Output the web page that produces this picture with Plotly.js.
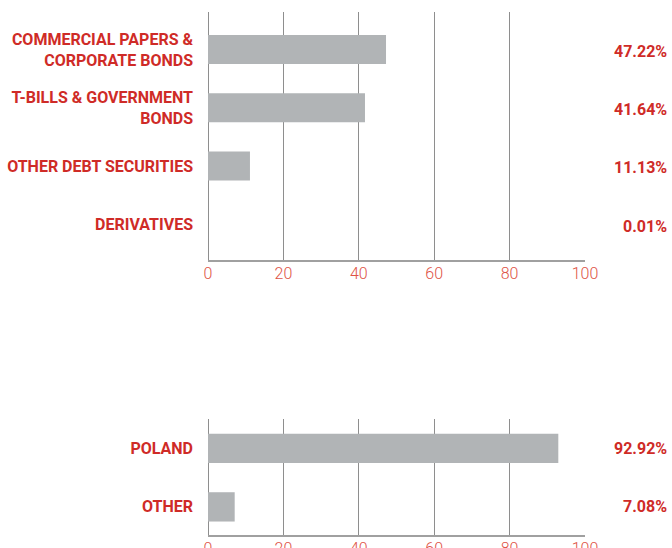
<!DOCTYPE html>
<html>
<head>
<meta charset="utf-8">
<script src="https://cdn.plot.ly/plotly-3.0.1.min.js"></script>
<style>html,body{margin:0;padding:0;background:#fff;}#chart{width:672px;height:548px;}</style>
</head>
<body>
<div id="chart"></div>
<script>
// Data
const assetCategories = ["COMMERCIAL PAPERS &<br>CORPORATE BONDS", "T-BILLS & GOVERNMENT<br>BONDS", "OTHER DEBT SECURITIES", "DERIVATIVES"];
const assetValues = [47.22, 41.64, 11.13, 0.01];
const countryCategories = ["POLAND", "OTHER"];
const countryValues = [92.92, 7.08];
const xTickValues = [0, 20, 40, 60, 80, 100];

const RED = "#cf2b27";
const TICKRED = "#de5346";
const BAR = "#b1b4b6";
const GRID = "#8e8e8e";
const LABEL_FONT = {family: "Roboto, 'Liberation Sans', sans-serif", size: 16, color: RED, weight: 700};

const traces = [
  {type: "bar", orientation: "h", x: assetValues, y: assetCategories, xaxis: "x", yaxis: "y",
   marker: {color: BAR}, width: 0.5, hoverinfo: "none"},
  {type: "bar", orientation: "h", x: countryValues, y: countryCategories, xaxis: "x2", yaxis: "y2",
   marker: {color: BAR}, width: 0.5, hoverinfo: "none"}
];

function xAxis(anchor) {
  return {
    anchor: anchor, range: [0, 100], tickvals: xTickValues, fixedrange: true,
    showgrid: true, gridcolor: GRID, gridwidth: 1,
    zeroline: true, zerolinecolor: GRID, zerolinewidth: 1,
    showline: true, linecolor: "#a0a0a0", linewidth: 1.5,
    ticks: "", ticklabelstandoff: -2,
    tickfont: {family: "Roboto, 'Liberation Sans', sans-serif", size: 16, color: TICKRED, weight: 300}
  };
}

const annotations = [];
assetCategories.forEach((c, i) => annotations.push({
  xref: "paper", yref: "y", x: 1, y: c, xanchor: "right", xshift: 84, yshift: -2,
  text: assetValues[i].toFixed(2) + "%", showarrow: false, font: LABEL_FONT
}));
countryCategories.forEach((c, i) => annotations.push({
  xref: "paper", yref: "y2", x: 1, y: c, xanchor: "right", xshift: 84,
  text: countryValues[i].toFixed(2) + "%", showarrow: false, font: LABEL_FONT
}));

const layout = {
  width: 672, height: 548,
  margin: {l: 208, r: 86.5, t: 12, b: 13},
  paper_bgcolor: "#fff", plot_bgcolor: "#fff",
  showlegend: false, bargap: 0.5,
  xaxis: xAxis("y"),
  xaxis2: xAxis("y2"),
  yaxis: {domain: [0.5258, 1], range: [3.615, -0.645], type: "category", anchor: "x",
          showgrid: false, zeroline: false, showline: false, ticks: "", ticklabelstandoff: 14,
          tickfont: LABEL_FONT, fixedrange: true},
  yaxis2: {domain: [0, 0.2218], range: [1.48, -0.5], type: "category", anchor: "x2",
           showgrid: false, zeroline: false, showline: false, ticks: "", ticklabelstandoff: 14,
           tickfont: LABEL_FONT, fixedrange: true},
  annotations: annotations
};

Plotly.newPlot("chart", traces, layout, {displayModeBar: false, staticPlot: true});
</script>
</body>
</html>
